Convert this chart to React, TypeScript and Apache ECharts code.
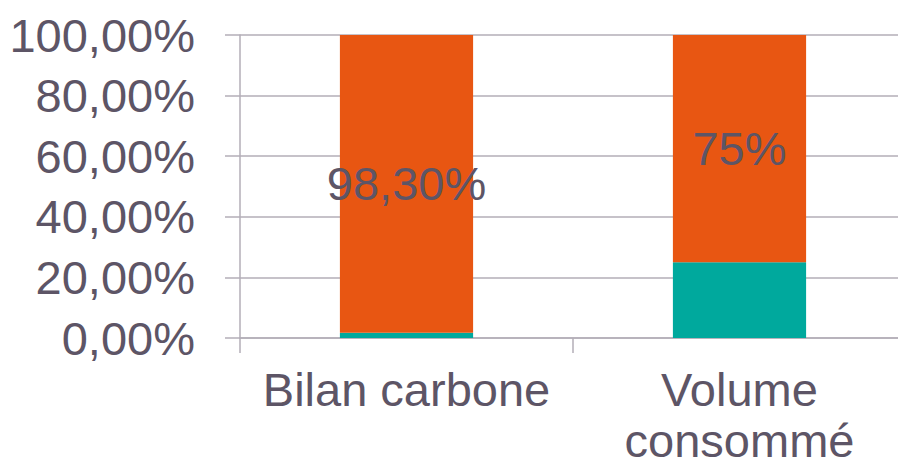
import React, { useEffect, useRef } from "react";
import * as echarts from "echarts";

const categories = ["Bilan carbone", "Volume\nconsommé"];
const tealValues = [1.7, 25];
const orangeValues = [98.3, 75];
const yTicks = [0, 20, 40, 60, 80, 100];

const TEXT = "#5d5566";
const LINE = "#b3aeb7";
const FONT = "Liberation Sans, Arial, sans-serif";
const FS = 47;

const frPercent = (v: number, digits: number) =>
  v.toFixed(digits).replace(".", ",") + "%";

export default function App() {
  const ref = useRef<HTMLDivElement>(null);

  useEffect(() => {
    if (!ref.current) return;
    const chart = echarts.init(ref.current, null, { renderer: "svg" });
    chart.setOption({
      animation: false,
      backgroundColor: "#ffffff",
      grid: {
        left: 240,
        right: 0,
        top: 35,
        bottom: 129,
        containLabel: false,
        outerBoundsMode: "none",
      },
      xAxis: {
        type: "category",
        data: categories,
        axisLine: { show: true, lineStyle: { color: LINE, width: 1.5 } },
        axisTick: { show: true, length: 15, lineStyle: { color: LINE, width: 1.5 } },
        axisLabel: {
          color: TEXT,
          fontSize: FS,
          fontFamily: FONT,
          margin: 26,
          lineHeight: 51,
          interval: 0,
          hideOverlap: false,
        },
      },
      yAxis: {
        type: "value",
        min: yTicks[0],
        max: yTicks[yTicks.length - 1],
        interval: 20,
        axisLine: { show: true, lineStyle: { color: LINE, width: 1.5 } },
        axisTick: { show: true, length: 15, lineStyle: { color: LINE, width: 1.5 } },
        splitLine: { show: true, lineStyle: { color: LINE, width: 1.5 } },
        axisLabel: {
          color: TEXT,
          fontSize: FS,
          fontFamily: FONT,
          margin: 45,
          formatter: (v: number) => frPercent(v, 2),
        },
      },
      series: [
        {
          type: "bar",
          stack: "total",
          data: tealValues,
          barWidth: "40%",
          itemStyle: { color: "#00a99d" },
        },
        {
          type: "bar",
          stack: "total",
          data: orangeValues,
          barWidth: "40%",
          itemStyle: { color: "#e85612" },
          label: {
            show: true,
            position: "inside",
            color: TEXT,
            fontSize: FS,
            fontFamily: FONT,
            formatter: (p: any) =>
              Number.isInteger(p.value) ? p.value + "%" : frPercent(p.value, 2),
          },
        },
      ],
    });
    return () => chart.dispose();
  }, []);

  return (
    <div
      style={{
        position: "absolute",
        left: 0,
        top: 0,
        width: 898,
        height: 467,
        overflow: "hidden",
      }}
    >
      <div ref={ref} style={{ width: 906, height: 467 }} />
    </div>
  );
}
